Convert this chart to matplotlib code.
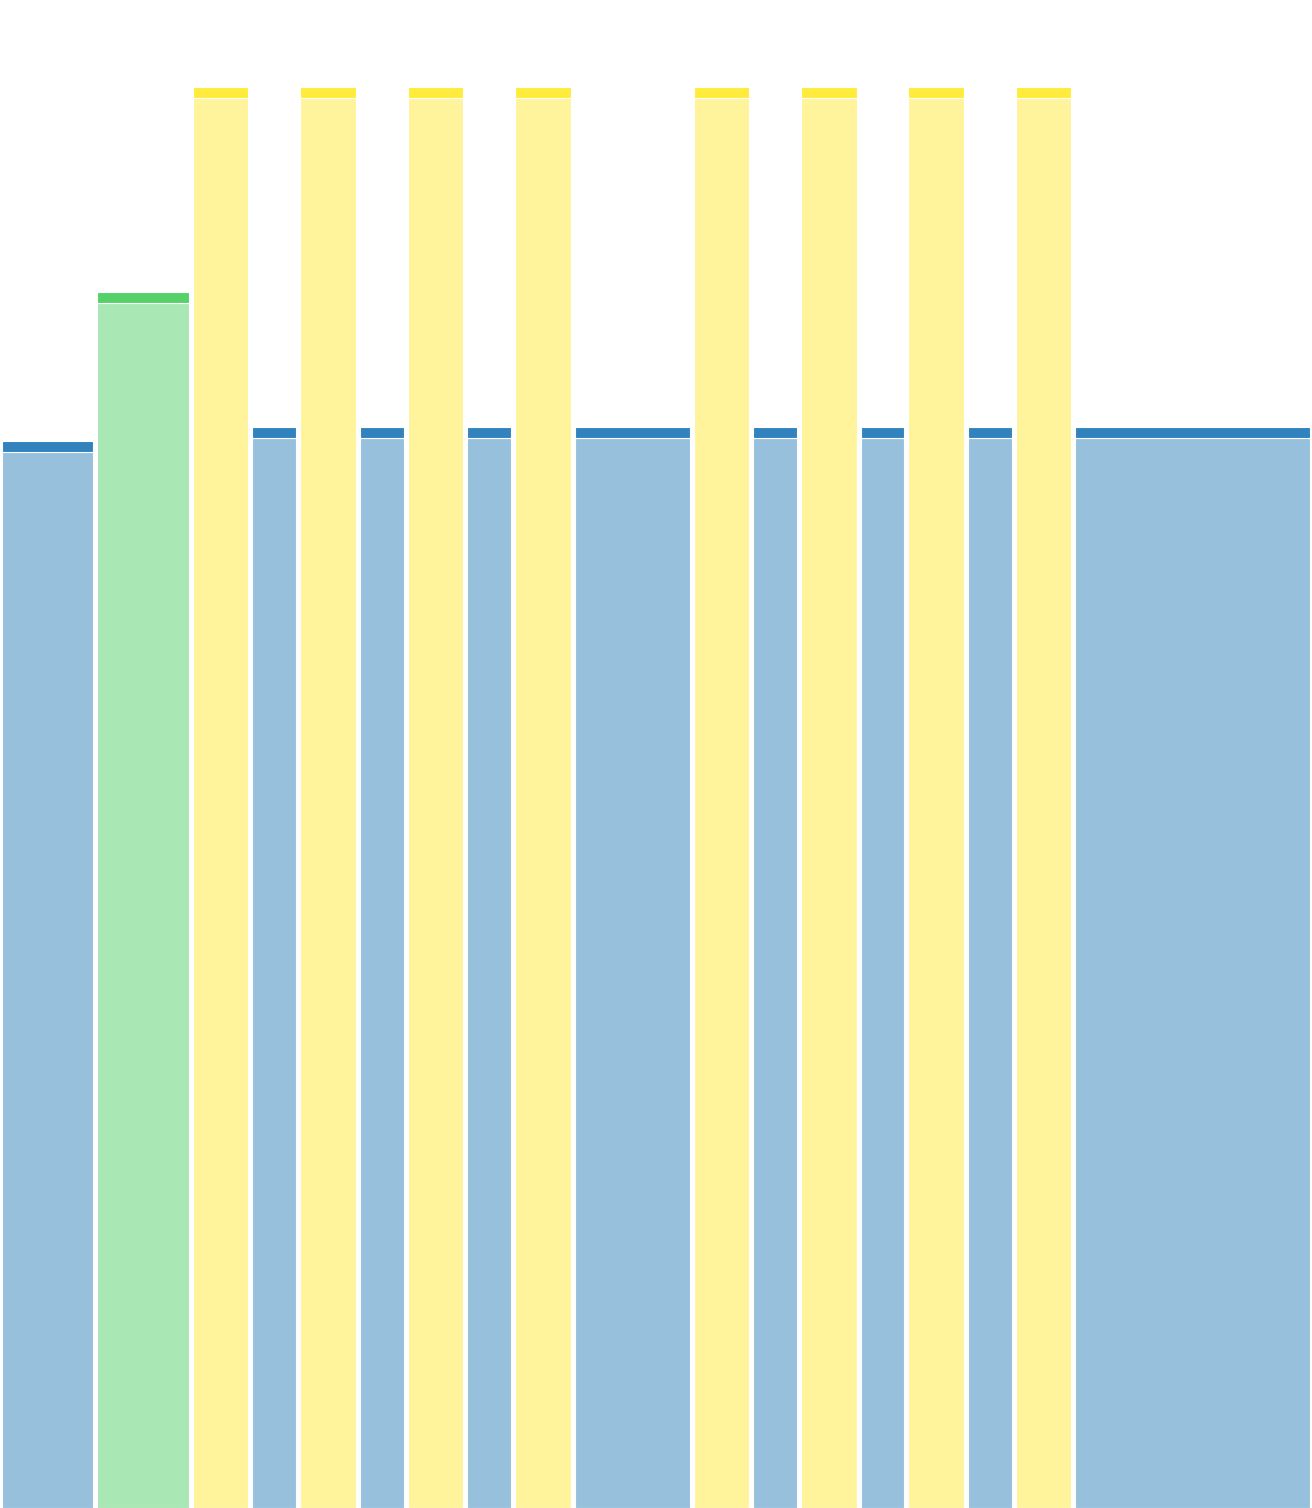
import numpy as np
import matplotlib
matplotlib.use("Agg")
import matplotlib.pyplot as plt
from matplotlib.colors import to_rgba

# bar groups, relative widths and heights (yellow = 100)
groups = ["blue", "green", "yellow", "blue", "yellow", "blue", "yellow", "blue", "yellow",
          "blue", "yellow", "blue", "yellow", "blue", "yellow", "blue", "yellow", "blue"]
widths = [2.0, 2.0, 1.25, 1.0, 1.25, 1.0, 1.25, 1.0, 1.25,
          2.5, 1.25, 1.0, 1.25, 1.0, 1.25, 1.0, 1.25, 5.0]
values = [75.1, 85.6, 100, 76.1, 100, 76.1, 100, 76.1, 100,
          76.1, 100, 76.1, 100, 76.1, 100, 76.1, 100, 76.1]

colors = {"blue": "#3182bd", "green": "#55d16a", "yellow": "#ffeb3b"}

widths = np.array(widths)
values = np.array(values)
lefts = np.concatenate([[0], np.cumsum(widths)[:-1]])
total = widths.sum()

fig = plt.figure(figsize=(13.12, 15.08), dpi=100)
ax = fig.add_axes([0, 0, 1, 1])

unit = total / 1312.0          # data units per pixel in x
gap = 4 * unit
cap = 0.8

for g, l, w, v in zip(groups, lefts, widths, values):
    c = colors[g]
    light = to_rgba(c, 0.5)
    ax.bar(l + gap / 2, v - cap, width=w - gap, align="edge",
           color=light, edgecolor="white", linewidth=0.8)
    ax.bar(l + gap / 2, cap, bottom=v - cap, width=w - gap, align="edge",
           color=c, edgecolor="white", linewidth=0.8)

ax.set_xlim(0, total)
ax.set_ylim(0, 100 * 1508 / 1421)
ax.axis("off")

fig.savefig("out.png", dpi=100)
